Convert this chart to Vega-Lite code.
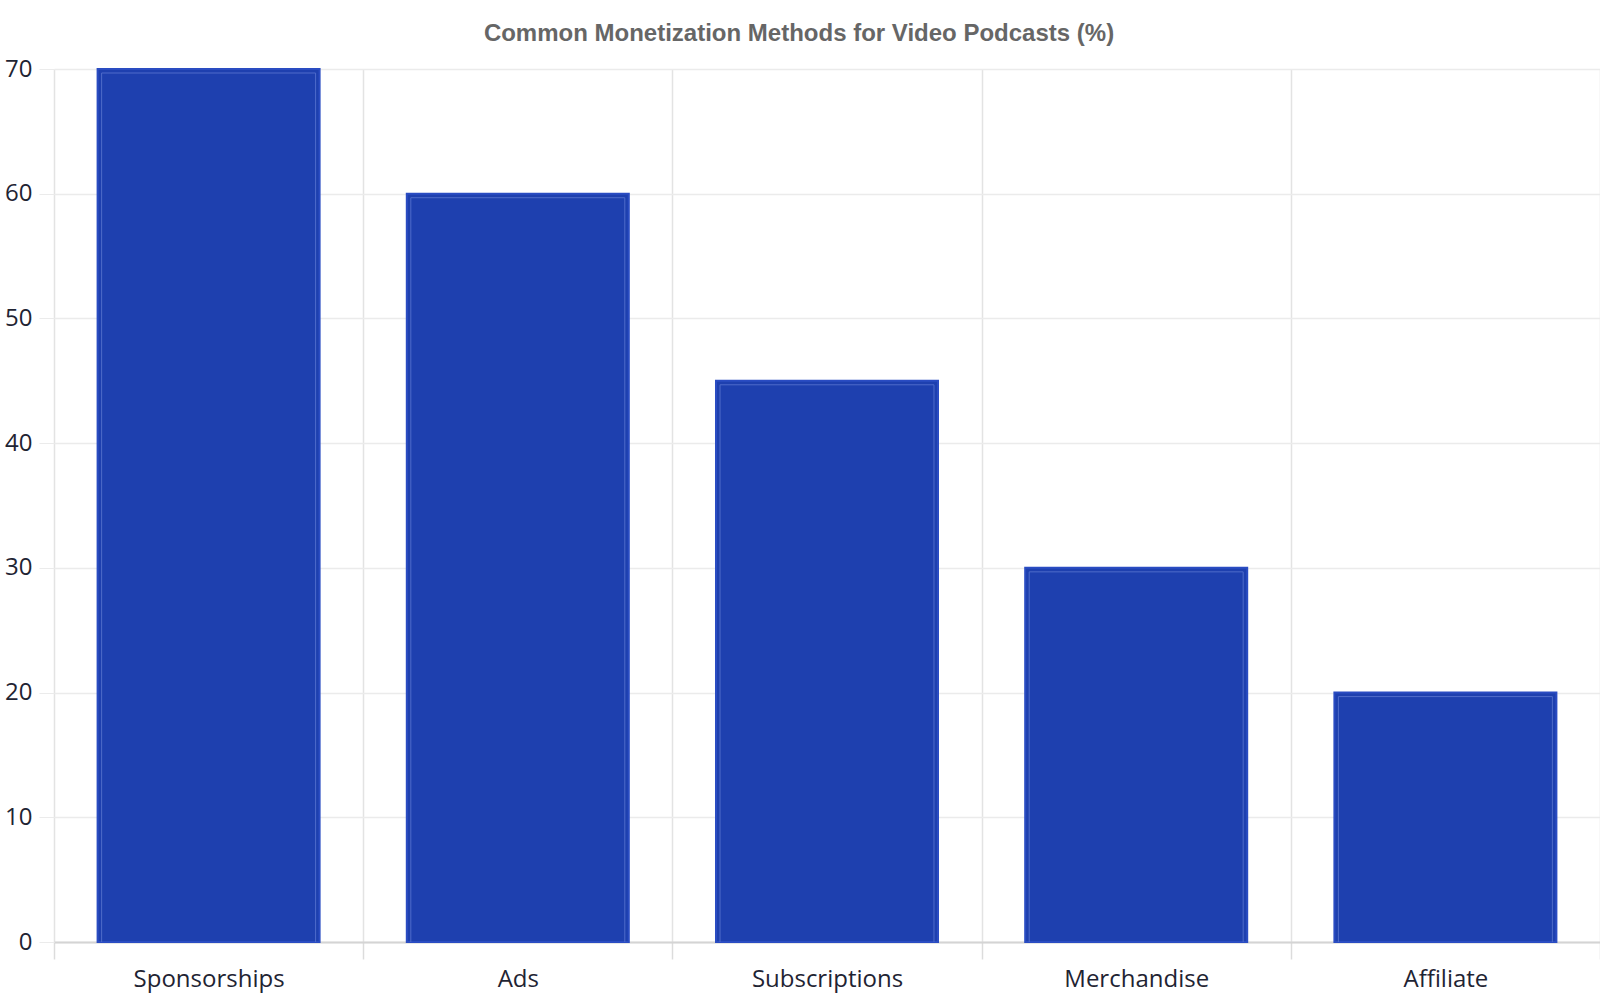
{
  "$schema": "https://vega.github.io/schema/vega-lite/v6.json",
  "width": 1546,
  "height": 873,
  "autosize": {"type": "none"},
  "padding": {"left": 54, "top": 69, "right": 0, "bottom": 58},
  "background": "white",
  "title": {
    "text": "Common Monetization Methods for Video Podcasts (%)",
    "font": "Liberation Sans",
    "fontSize": 24,
    "fontWeight": "bold",
    "color": "#666666",
    "anchor": "middle",
    "dx": -28,
    "offset": 11
  },
  "data": {
    "values": [
      {"method": "Sponsorships", "percent": 70},
      {"method": "Ads", "percent": 60},
      {"method": "Subscriptions", "percent": 45},
      {"method": "Merchandise", "percent": 30},
      {"method": "Affiliate", "percent": 20}
    ]
  },
  "config": {
    "view": {"stroke": null}
  },
  "encoding": {
    "x": {
      "field": "method",
      "type": "nominal",
      "sort": null,
      "scale": {"paddingInner": 0, "paddingOuter": 0},
      "axis": {
        "title": null,
        "labelAngle": 0,
        "labelFont": "Open Sans",
        "labelFontSize": 24,
        "labelColor": "#1f2433",
        "labelPadding": 8,
        "tickBand": "extent",
        "tickSize": 17,
        "tickColor": "#dcdcdc",
        "tickWidth": 1.5,
        "grid": true,
        "gridColor": "#e3e3e3",
        "gridWidth": 1.5,
        "domainColor": "#d4d4d4",
        "domainWidth": 2
      }
    },
    "y": {
      "field": "percent",
      "type": "quantitative",
      "scale": {"domain": [0, 70], "nice": false},
      "axis": {
        "title": null,
        "values": [0, 10, 20, 30, 40, 50, 60, 70],
        "labelFont": "Open Sans",
        "labelFontSize": 24,
        "labelColor": "#1f2433",
        "labelPadding": 7,
        "tickSize": 15,
        "tickColor": "#ebebeb",
        "grid": true,
        "gridColor": "#ebebeb",
        "gridWidth": 1.5,
        "domain": false
      }
    }
  },
  "layer": [
    {
      "mark": {
        "type": "bar",
        "fill": "#1e40af",
        "stroke": "#2a4cc2",
        "strokeWidth": 2,
        "width": {"band": 0.718}
      }
    },
    {
      "mark": {
        "type": "bar",
        "fillOpacity": 0,
        "stroke": "#4f6bca",
        "strokeWidth": 1,
        "width": {"band": 0.692},
        "yOffset": 4,
        "clip": true
      }
    }
  ]
}
